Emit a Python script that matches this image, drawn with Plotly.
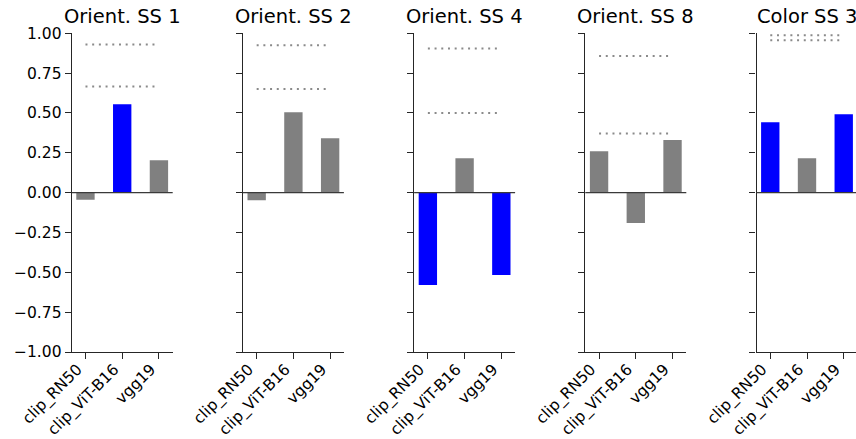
import plotly.graph_objects as go

categories = ["clip_RN50", "clip_ViT-B16", "vgg19"]
titles = ["Orient. SS 1", "Orient. SS 2", "Orient. SS 4", "Orient. SS 8", "Color SS 3"]

values_ss1 = [-0.045, 0.555, 0.204]
values_ss2 = [-0.048, 0.505, 0.342]
values_ss4 = [-0.58, 0.216, -0.517]
values_ss8 = [0.26, -0.19, 0.33]
values_color3 = [0.442, 0.216, 0.492]

highlight_ss1 = [False, True, False]
highlight_ss2 = [False, False, False]
highlight_ss4 = [True, False, True]
highlight_ss8 = [False, False, False]
highlight_color3 = [True, False, True]

ref_ss1 = [0.93, 0.666]
ref_ss2 = [0.925, 0.65]
ref_ss4 = [0.904, 0.50]
ref_ss8 = [0.858, 0.371]
ref_color3 = [0.987, 0.956]

yticks = [-1.0, -0.75, -0.5, -0.25, 0.0, 0.25, 0.5, 0.75, 1.0]

panels = [
    (values_ss1, highlight_ss1, ref_ss1),
    (values_ss2, highlight_ss2, ref_ss2),
    (values_ss4, highlight_ss4, ref_ss4),
    (values_ss8, highlight_ss8, ref_ss8),
    (values_color3, highlight_color3, ref_color3),
]

W, H = 856, 439
panel_x0 = [71.7, 242.9, 414.1, 585.3, 756.5]
panel_w = 101.0
xlo, xhi = -0.375, 2.375
y_top, y_bot = 33.3, 352.0
ydom = [1 - y_bot / H, 1 - y_top / H]

BLUE = "#0000ff"
GRAY = "#808080"
AXC = "#262626"
FONT = "DejaVu Sans"
TICK_SIZE = 15.5
TITLE_SIZE = 19.5

fig = go.Figure()
layout = dict(
    width=W, height=H,
    margin=dict(l=0, r=0, t=0, b=0),
    plot_bgcolor="white", paper_bgcolor="white",
    showlegend=False,
    font=dict(family=FONT, size=TICK_SIZE, color="black"),
)
annotations = []
shapes = []

for i, (vals, hl, refs) in enumerate(panels):
    n = i + 1
    xa = "x" if n == 1 else f"x{n}"
    ya = "y" if n == 1 else f"y{n}"
    colors = [BLUE if h else GRAY for h in hl]
    fig.add_trace(go.Bar(x=[0, 1, 2], y=vals, marker=dict(color=colors, line=dict(width=0)),
                         width=0.5, xaxis=xa, yaxis=ya, hoverinfo="skip"))
    for r in refs:
        fig.add_trace(go.Scatter(x=[0, 2], y=[r, r], mode="lines",
                                 line=dict(color="#8a8a8a", width=2, dash="2px,4.7px"),
                                 xaxis=xa, yaxis=ya, hoverinfo="skip"))
    px0 = panel_x0[i]
    px1 = min(px0 + panel_w, W)
    rhi = xlo + (xhi - xlo) * (px1 - px0) / panel_w
    x0 = px0 / W
    x1 = px1 / W
    layout["xaxis" if n == 1 else f"xaxis{n}"] = dict(
        domain=[x0, x1], anchor=ya, range=[xlo, rhi],
        tickmode="array", tickvals=[0, 1, 2], ticktext=categories, tickangle=-45,
        ticklabelshift=-8, ticklabelstandoff=-5,
        showline=True, linecolor=AXC, linewidth=1.2, ticks="outside", ticklen=6,
        tickwidth=1.2, tickcolor=AXC, showgrid=False, zeroline=False,
        automargin=False, fixedrange=True,
        tickfont=dict(family=FONT, size=TICK_SIZE, color="black"),
    )
    layout["yaxis" if n == 1 else f"yaxis{n}"] = dict(
        domain=ydom, anchor=xa, range=[-1, 1],
        tickmode="array", tickvals=yticks, tickformat=".2f",
        showticklabels=(n == 1),
        showline=True, linecolor=AXC, linewidth=1.2, ticks="outside", ticklen=6,
        tickwidth=1.2, tickcolor=AXC, showgrid=False, zeroline=False,
        automargin=False, fixedrange=True,
        tickfont=dict(family=FONT, size=TICK_SIZE, color="black"),
    )
    shapes.append(dict(type="line", xref=f"{xa} domain", yref=ya, x0=0, x1=1, y0=0, y1=0,
                       line=dict(color="#3a3a3a", width=1.4), layer="above"))
    cx = (px0 + panel_w / 2) / W
    annotations.append(dict(text=titles[i], xref="paper", yref="paper",
                            x=cx, y=1 - 17.0 / H, xanchor="center", yanchor="middle",
                            showarrow=False, font=dict(family=FONT, size=TITLE_SIZE, color="black")))

layout["annotations"] = annotations
layout["shapes"] = shapes
fig.update_layout(**layout)
fig.write_html(
    "out.html",
    config={"displayModeBar": False},
    post_script="document.body.style.margin='0';document.body.style.padding='0';document.body.style.overflow='hidden';",
)
